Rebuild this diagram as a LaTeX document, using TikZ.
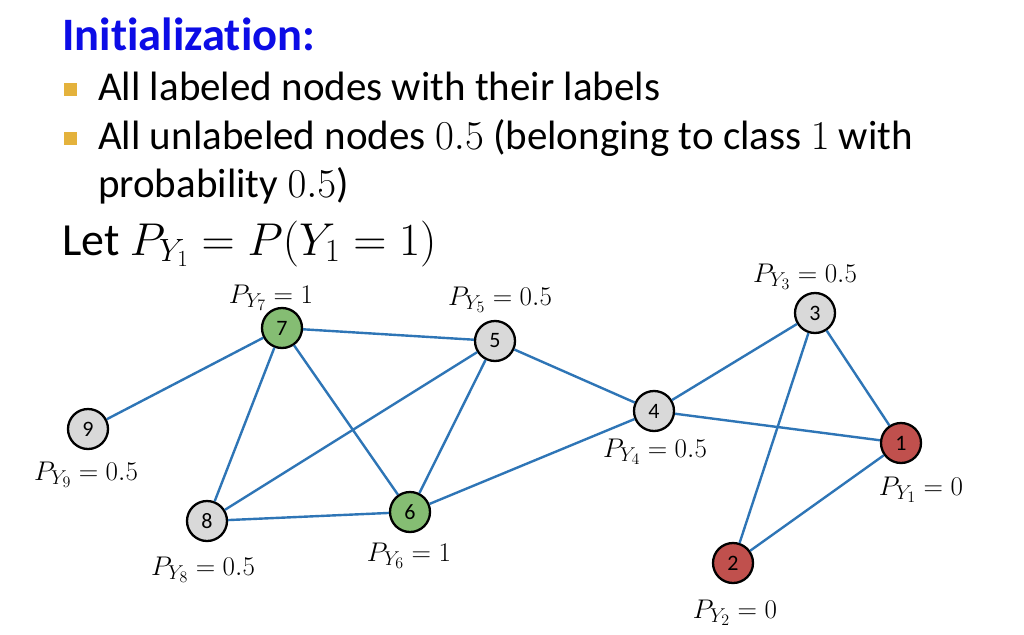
\RequirePackage{fix-cm}
\documentclass[tikz,border=0pt]{standalone}
\usepackage{fontspec}
\setmainfont{Carlito}[Ligatures=NoCommon]
\DeclareMathSizes{27}{27}{20}{16}
\definecolor{titleblue}{RGB}{12,12,230}
\definecolor{bulletgold}{RGB}{228,178,60}
\definecolor{edgeblue}{RGB}{46,117,182}
\definecolor{nodegray}{RGB}{217,217,217}
\definecolor{nodegreen}{RGB}{133,189,115}
\definecolor{nodered}{RGB}{192,80,77}
\begin{document}
\begin{tikzpicture}[x=1pt,y=-1pt,
  gnode/.style={circle,draw=black,line width=2.3pt,minimum size=40pt,inner sep=0pt,
    font=\fontsize{22}{26}\selectfont},
  grayn/.style={gnode,fill=nodegray},
  greenn/.style={gnode,fill=nodegreen},
  redn/.style={gnode,fill=nodered},
  edge/.style={draw=edgeblue,line width=2.4pt},
  plabel/.style={anchor=base,inner sep=0pt,font=\fontsize{27}{32}\selectfont},
  bodytext/.style={anchor=base west,inner sep=0pt,font=\fontsize{41}{49}\selectfont},
  bulletsq/.style={fill=bulletgold,draw=none,minimum size=13pt,inner sep=0pt}
]
\useasboundingbox[fill=white] (0,0) rectangle (1024,634);

% text
\node[anchor=base west,inner sep=0pt,font=\fontsize{46.5}{55}\selectfont\bfseries,text=titleblue] (title) at (62,50) {Initialization:};
\node[bulletsq] (b1) at (70,89) {};
\node[bulletsq] (b2) at (70,138) {};
\node[bodytext] (t1) at (98,100) {All labeled nodes with their labels};
\node[bodytext] (t2) at (98,149) {All unlabeled nodes $0.5$ (belonging to class $1$ with};
\node[bodytext] (t3) at (98,197) {probability $0.5$)};
\node[anchor=base west,inner sep=0pt,font=\fontsize{46}{55}\selectfont] (let) at (62,255) {Let $P_{Y_1} = P(Y_1 = 1)$};

% nodes
\node[greenn] (n7) at (282,328) {7};
\node[grayn] (n5) at (495,341) {5};
\node[grayn] (n9) at (88,429) {9};
\node[grayn] (n8) at (207,521) {8};
\node[greenn] (n6) at (410,512) {6};
\node[grayn] (n4) at (654,411) {4};
\node[grayn] (n3) at (815,313) {3};
\node[redn] (n1) at (901,443) {1};
\node[redn] (n2) at (733,563) {2};

% edges
\path[edge] (n7) -- (n5);
\path[edge] (n7) -- (n9);
\path[edge] (n7) -- (n8);
\path[edge] (n7) -- (n6);
\path[edge] (n5) -- (n8);
\path[edge] (n5) -- (n6);
\path[edge] (n5) -- (n4);
\path[edge] (n8) -- (n6);
\path[edge] (n6) -- (n4);
\path[edge] (n4) -- (n3);
\path[edge] (n4) -- (n1);
\path[edge] (n3) -- (n1);
\path[edge] (n3) -- (n2);
\path[edge] (n1) -- (n2);

% labels
\node[plabel] (l7) at (271,303) {$P_{Y_7} = 1$};
\node[plabel] (l5) at (500,305) {$P_{Y_5} = 0.5$};
\node[plabel] (l3) at (805,282) {$P_{Y_3} = 0.5$};
\node[plabel] (l9) at (86,480) {$P_{Y_9} = 0.5$};
\node[plabel] (l4) at (655,457) {$P_{Y_4} = 0.5$};
\node[plabel] (l1) at (921,495) {$P_{Y_1} = 0$};
\node[plabel] (l8) at (203,575) {$P_{Y_8} = 0.5$};
\node[plabel] (l6) at (409,561) {$P_{Y_6} = 1$};
\node[plabel] (l2) at (735,618) {$P_{Y_2} = 0$};
\end{tikzpicture}
\end{document}
